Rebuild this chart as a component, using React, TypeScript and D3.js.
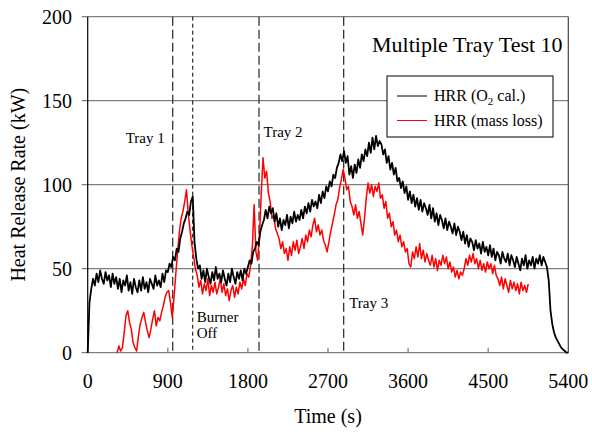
import React from 'react';
import * as d3 from 'd3';

// ---- data ----
const X_TICKS = [0, 900, 1800, 2700, 3600, 4500, 5400];
const Y_TICKS = [0, 50, 100, 150, 200];

// HRR by O2 calorimetry, sampled every 20 s starting at t = 0 (one row = 300 s)
const O2_START = 0;
const O2_STEP = 20;
const HRR_O2 = [
  0, 30, 38, 44, 40, 47, 42, 49, 44, 41, 48, 43, 46, 39, 47,
  41, 45, 38, 44, 36, 43, 40, 46, 37, 42, 35, 44, 39, 36, 43,
  37, 45, 38, 42, 36, 44, 41, 38, 46, 40, 43, 39, 47, 42, 49,
  48, 53, 51, 57, 55, 62, 60, 68, 72, 77, 80, 84, 82, 90, 93,
  66, 56, 50, 52, 44, 49, 42, 50, 45, 41, 48, 43, 51, 44, 47,
  42, 49, 44, 40, 47, 42, 50, 45, 41, 48, 44, 49, 43, 50, 47,
  51, 55, 53, 60, 62, 66, 64, 72, 76, 79, 85, 80, 87, 83, 86,
  78, 83, 75, 80, 73, 79, 76, 82, 74, 81, 77, 84, 78, 82, 79,
  85, 80, 87, 83, 89, 84, 91, 87, 90, 86, 94, 89, 96, 92, 99,
  96, 102, 99, 106, 104, 110, 113, 118, 114, 120, 113, 117, 106, 111, 104,
  112, 107, 115, 110, 118, 114, 121, 117, 125, 119, 128, 121, 129, 123, 126,
  124, 118, 121, 113, 117, 109, 113, 106, 110, 102, 104, 98, 102, 95, 99,
  91, 96, 89, 94, 87, 92, 85, 91, 84, 89, 86, 82, 88, 80, 86,
  78, 83, 76, 82, 79, 74, 80, 73, 78, 75, 71, 77, 70, 75, 72,
  67, 72, 65, 70, 63, 68, 66, 61, 67, 62, 65, 59, 66, 60, 63,
  58, 64, 57, 62, 55, 60, 58, 53, 60, 56, 54, 59, 52, 58, 55,
  51, 57, 53, 49, 56, 52, 58, 50, 55, 52, 57, 50, 56, 53, 58,
  52, 57, 54, 51, 43, 25, 17, 12, 9, 7, 5, 3, 2, 1, 0,
  0,
];

// HRR by mass loss, sampled every 20 s starting at t = 330 (one row = 300 s)
const ML_START = 330;
const ML_STEP = 20;
const HRR_ML = [
  0, 4, 1, 3, 12, 22, 25, 18, 14, 6, 3, 1, 10, 17, 21,
  24, 18, 13, 9, 14, 20, 25, 16, 21, 19, 24, 28, 33, 36, 37,
  30, 21, 33, 47, 60, 72, 80, 84, 90, 97, 83, 73, 64, 57, 50,
  46, 39, 43, 35, 41, 37, 44, 34, 40, 36, 42, 35, 39, 44, 36,
  41, 34, 38, 31, 37, 40, 33, 39, 35, 42, 38, 44, 40, 47, 45,
  52, 63, 88, 60, 55, 70, 95, 116, 104, 108, 95, 90, 80, 82, 74,
  71, 68, 62, 66, 59, 62, 55, 63, 58, 66, 61, 67, 59, 63, 68,
  62, 70, 66, 73, 69, 76, 80, 72, 76, 70, 73, 67, 64, 60, 66,
  72, 77, 82, 88, 91, 98, 103, 109, 104, 97, 99, 90, 87, 82, 88,
  80, 84, 77, 70, 80, 92, 101, 95, 100, 93, 99, 96, 101, 92, 94,
  86, 90, 80, 83, 75, 78, 70, 73, 66, 70, 63, 66, 60, 62, 53,
  51, 60, 56, 63, 57, 65, 56, 61, 54, 59, 55, 52, 58, 51, 56,
  49, 55, 52, 58, 53, 57, 50, 54, 48, 51, 45, 49, 44, 48, 46,
  50, 56, 52, 58, 54, 59, 53, 56, 50, 55, 49, 53, 48, 54, 50,
  53, 47, 52, 46, 44, 40, 45, 38, 44, 40, 36, 43, 38, 42, 37,
  41, 35, 42, 37, 40, 36, 41,
];

const EVENT_TIMES = [955, 1180, 1925, 2876];
const EVENT_NAMES = ['Tray 1', 'Burner Off', 'Tray 2', 'Tray 3'];
const SERIES_NAMES = ['HRR (O', '2', ' cal.)', 'HRR (mass loss)'];
const TITLE = 'Multiple Tray Test 10';

const FONT = '"Liberation Serif", "Times New Roman", serif';

export default function App() {
  const W = 592, H = 435;
  const x = d3.scaleLinear().domain([0, 5400]).range([87.7, 568.3]);
  const y = d3.scaleLinear().domain([0, 200]).range([352.7, 16.7]);

  const o2 = HRR_O2.map((v, i) => [O2_START + i * O2_STEP, v] as [number, number]);
  const ml = HRR_ML.map((v, i) => [ML_START + i * ML_STEP, v] as [number, number]);
  const line = d3.line<[number, number]>().x(d => x(d[0])).y(d => y(d[1]));

  // label placements: [dx from line, value-level for baseline, anchor]
  const labelPos = [
    { dx: -8, v: 124.8, anchor: 'end' },
    { dx: 4, v: 18.3, anchor: 'start' },
    { dx: 4.5, v: 128.4, anchor: 'start' },
    { dx: 5.5, v: 26.6, anchor: 'start' },
  ];
  const dashes = ['9,4', '4,3', '9,4', '9,4'];

  return (
    <svg width={W} height={H} style={{ position: 'absolute', left: 0, top: 0, background: '#fff' }}
      fontFamily={FONT}>
      <rect x={0} y={0} width={W} height={H} fill="#fff" />
      {/* horizontal grid lines + outward y ticks */}
      {Y_TICKS.map(t => (
        <line key={'g' + t} x1={x(0) - 6} x2={x(5400)} y1={y(t)} y2={y(t)}
          stroke="#7f7f7f" strokeWidth={1.3} />
      ))}
      {/* inward x ticks */}
      {X_TICKS.slice(1, -1).map(t => (
        <line key={'xt' + t} x1={x(t)} x2={x(t)} y1={y(0)} y2={y(0) - 5}
          stroke="#7f7f7f" strokeWidth={1.3} />
      ))}
      {/* frame verticals */}
      <line x1={x(0)} x2={x(0)} y1={y(200)} y2={y(0)} stroke="#000" strokeWidth={1.2} />
      <line x1={x(5400)} x2={x(5400)} y1={y(200)} y2={y(0)} stroke="#404040" strokeWidth={1.2} />

      {/* event lines */}
      {EVENT_TIMES.map((t, i) => (
        <line key={'ev' + i} x1={x(t)} x2={x(t)} y1={y(200)} y2={y(0)}
          stroke={i === 1 ? '#000' : '#333'} strokeWidth={i === 1 ? 1 : 1.3}
          strokeDasharray={dashes[i]} />
      ))}

      {/* data */}
      <path d={line(ml) || ''} fill="none" stroke="#ff0000" strokeWidth={1.5} strokeLinejoin="round" />
      <path d={line(o2) || ''} fill="none" stroke="#000" strokeWidth={1.8} strokeLinejoin="round" />

      {/* event labels */}
      {EVENT_NAMES.map((name, i) => {
        const p = labelPos[i];
        const words = name === 'Burner Off' ? ['Burner', 'Off'] : [name];
        return words.map((w, j) => (
          <text key={'lb' + i + j} x={x(EVENT_TIMES[i]) + p.dx} y={y(p.v) + j * 16}
            fontSize={15} textAnchor={p.anchor as any} fill="#000">{w}</text>
        ));
      })}

      {/* tick labels */}
      {Y_TICKS.map(t => (
        <text key={'yl' + t} x={72} y={y(t) + 7} fontSize={20} textAnchor="end">{t}</text>
      ))}
      {X_TICKS.map(t => (
        <text key={'xl' + t} x={x(t)} y={388} fontSize={20} textAnchor="middle">{t}</text>
      ))}

      {/* axis titles */}
      <text x={328} y={423} fontSize={20} textAnchor="middle">Time (s)</text>
      <text transform={`translate(25,${(y(0) + y(200)) / 2}) rotate(-90)`} fontSize={20}
        textAnchor="middle">Heat Release Rate (kW)</text>

      {/* title */}
      <text x={372} y={52} fontSize={22}>{TITLE}</text>

      {/* legend */}
      <rect x={387} y={76} width={166} height={61} fill="#fff" stroke="#000" strokeWidth={1} />
      <line x1={397} x2={427} y1={96} y2={96} stroke="#000" strokeWidth={1} />
      <line x1={397} x2={427} y1={120.5} y2={120.5} stroke="#ff0000" strokeWidth={1} />
      <text x={434} y={101} fontSize={16}>
        {SERIES_NAMES[0]}
        <tspan fontSize={11} dy={4}>{SERIES_NAMES[1]}</tspan>
        <tspan dy={-4}>{SERIES_NAMES[2]}</tspan>
      </text>
      <text x={434} y={126} fontSize={16}>{SERIES_NAMES[3]}</text>
    </svg>
  );
}
